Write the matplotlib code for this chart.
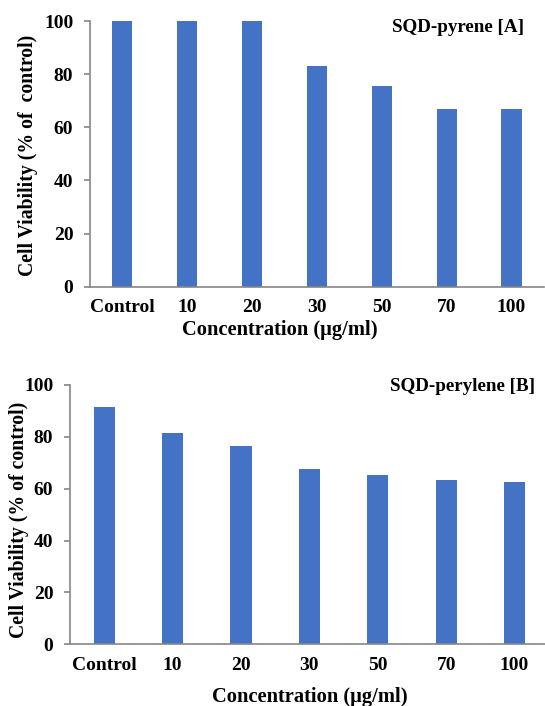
import matplotlib
matplotlib.use("Agg")
import matplotlib.pyplot as plt

# data
categories = ["Control", "10", "20", "30", "50", "70", "100"]
pyrene = [100, 100, 100, 83.1, 75.6, 67.0, 67.0]
perylene = [91.6, 81.6, 76.6, 67.6, 65.3, 63.4, 62.5]

bar_color = "#4472C4"
axis_color = "#868686"
plt.rcParams["font.family"] = ["Liberation Serif", "DejaVu Serif"]
plt.rcParams["font.weight"] = "bold"

fig = plt.figure(figsize=(5.45, 7.06), dpi=100)

# top panel
ax1 = fig.add_axes([0.165, 0.5939, 0.833, 0.3763])
# bottom panel
ax2 = fig.add_axes([0.1284, 0.0874, 0.8785, 0.3673])

panels = [
    (ax1, pyrene, "SQD-pyrene [A]", "Cell Viability (% of  control)",
     (0.956, 0.974), (0.419, -0.163), (-0.137, 0.496)),
    (ax2, perylene, "SQD-perylene [B]", "Cell Viability (% of control)",
     (0.971, 0.993), (0.501, -0.202), (-0.107, 0.479)),
]

for ax, vals, title, ylab, tpos, xlpos, ylpos in panels:
    x = range(len(categories))
    ax.bar(x, vals, width=0.31, color=bar_color)
    ax.set_xlim(-0.5, len(categories) - 0.5)
    ax.set_ylim(0, 100)
    ax.set_yticks([0, 20, 40, 60, 80, 100])
    ax.set_xticks(list(x))
    ax.set_xticklabels(categories)
    for s in ["top", "right"]:
        ax.spines[s].set_visible(False)
    for s in ["left", "bottom"]:
        ax.spines[s].set_color(axis_color)
        ax.spines[s].set_linewidth(1.2)
    ax.tick_params(axis="y", length=4, width=1.2, color=axis_color, pad=8,
                   labelsize=14)
    ax.tick_params(axis="x", length=0, pad=9, labelsize=14)
    for lab in ax.get_xticklabels() + ax.get_yticklabels():
        lab.set_fontweight("bold")
    ax.text(tpos[0], tpos[1], title, transform=ax.transAxes, ha="right",
            va="center", fontsize=13.7, fontweight="bold")
    ax.set_xlabel("Concentration (\u00b5g/ml)", fontsize=14.8, fontweight="bold",
                  va="center")
    ax.xaxis.set_label_coords(*xlpos)
    ax.set_ylabel(ylab, fontsize=14.2, fontweight="bold", va="center")
    ax.yaxis.set_label_coords(*ylpos)

fig.savefig("out.png", dpi=100)
